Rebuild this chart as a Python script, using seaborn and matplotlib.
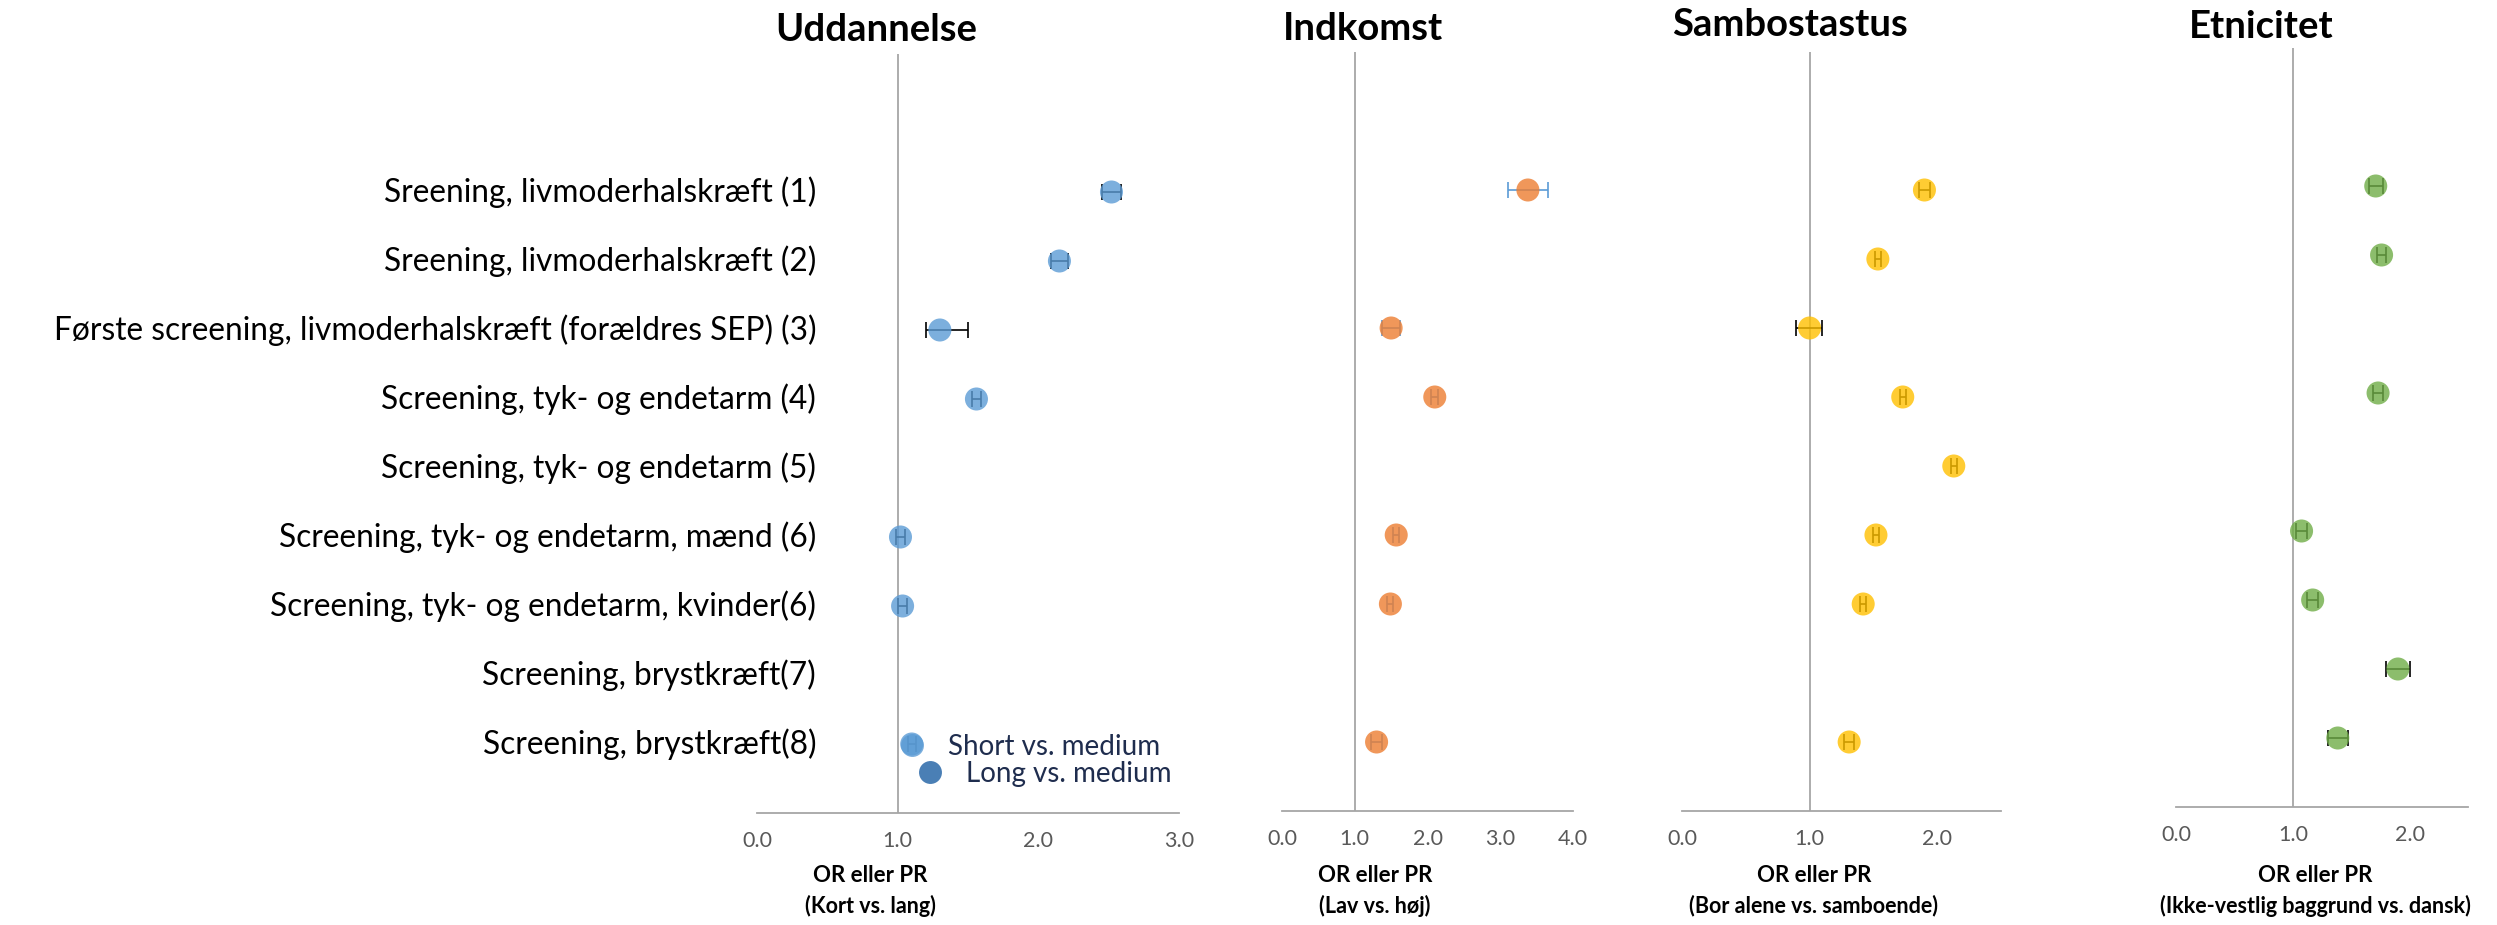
import numpy as np
import pandas as pd
import seaborn as sns
import matplotlib.pyplot as plt
from matplotlib.lines import Line2D

#------------------------------
# data
row_labels = [
    "Sreening, livmoderhalskræft (1)",
    "Sreening, livmoderhalskræft (2)",
    "Første screening, livmoderhalskræft (forældres SEP) (3)",
    "Screening, tyk- og endetarm (4)",
    "Screening, tyk- og endetarm (5)",
    "Screening, tyk- og endetarm, mænd (6)",
    "Screening, tyk- og endetarm, kvinder(6)",
    "Screening, brystkræft(7)",
    "Screening, brystkræft(8)",
]
nan = np.nan

edu_or = [2.52, 2.15, 1.30, 1.56, nan, 1.02, 1.035, nan, 1.10]
edu_lo = [2.45, 2.09, 1.20, 1.53, nan, 0.99, 1.005, nan, 1.07]
edu_hi = [2.59, 2.21, 1.50, 1.59, nan, 1.05, 1.065, nan, 1.13]

inc_or = [3.38, nan, 1.50, 2.10, nan, 1.57, 1.49, nan, 1.30]
inc_lo = [3.10, nan, 1.38, 2.05, nan, 1.53, 1.45, nan, 1.23]
inc_hi = [3.66, nan, 1.62, 2.15, nan, 1.61, 1.53, nan, 1.37]

civ_or = [1.90, 1.535, 1.00, 1.73, 2.13, 1.52, 1.42, nan, 1.31]
civ_lo = [1.86, 1.51, 0.89, 1.705, 2.105, 1.495, 1.395, nan, 1.27]
civ_hi = [1.94, 1.56, 1.10, 1.755, 2.155, 1.545, 1.445, nan, 1.35]

eth_or = [1.71, 1.76, nan, 1.73, nan, 1.075, 1.17, 1.90, 1.385]
eth_lo = [1.65, 1.72, nan, 1.69, nan, 1.03, 1.12, 1.80, 1.30]
eth_hi = [1.77, 1.80, nan, 1.77, nan, 1.12, 1.22, 2.00, 1.47]

titles = ["Uddannelse", "Indkomst", "Sambostastus", "Etnicitet"]
xlabel_2 = ["(Kort vs. lang)", "(Lav vs. høj)", "(Bor alene vs. samboende)",
            "(Ikke-vestlig baggrund vs. dansk)"]
xmax = [3.0, 4.0, 2.5, 2.5]
colors = ["#5B9BD5", "#ED7D31", "#FFC000", "#70AD47"]
err_colors = ["black", "#5B9BD5", "black", "black"]

#------------------------------
# one long table
frames = []
for name, o, lo, hi in zip(titles, [edu_or, inc_or, civ_or, eth_or],
                           [edu_lo, inc_lo, civ_lo, eth_lo],
                           [edu_hi, inc_hi, civ_hi, eth_hi]):
    df = pd.DataFrame({"panel": name, "row": np.arange(1, 10),
                       "OR": o, "lo": lo, "hi": hi})
    frames.append(df)
data = pd.concat(frames, ignore_index=True)

#------------------------------
W, H = 2497, 925
def fx(px):
    return px / W
def fy(py):
    return 1 - py / H

sns.set_style("white")
plt.rcParams["font.family"] = ["Lato", "DejaVu Sans"]

fig = plt.figure(figsize=(W / 100, H / 100), dpi=100)

# axes boxes in pixels: left, right, bottom
boxes = [(757, 1179, 813), (1282, 1573, 811), (1682, 2001, 811), (2176, 2468, 807)]
row_px = 69.0
title_pos = [(876, 30), (1363, 29), (1790, 25), (2261, 27)]
xlab_x = [870, 1375, 1814, 2315]

axes = []
for i, name in enumerate(titles):
    l, r, b = boxes[i]
    top = b - 11 * row_px
    ax = fig.add_axes([fx(l), fy(b), (r - l) / W, (b - top) / H])
    axes.append(ax)
    sub = data[data["panel"] == name].dropna()

    ax.errorbar(sub["OR"], sub["row"],
                xerr=[sub["OR"] - sub["lo"], sub["hi"] - sub["OR"]],
                fmt="none", ecolor=err_colors[i], elinewidth=1.2,
                capsize=5.5, capthick=1.2, zorder=2)
    sns.scatterplot(data=sub, x="OR", y="row", color=colors[i], s=275,
                    alpha=0.8, edgecolor="none", ax=ax, zorder=3, legend=False)
    ax.axvline(1.0, color="#a6a6a6", lw=1.3, zorder=1)

    ax.set_xlim(0, xmax[i])
    ax.set_ylim(10, -1)
    ax.set_xticks(np.arange(0, xmax[i] + 0.01, 1.0))
    ax.set_xticklabels([f"{t:.1f}" for t in np.arange(0, xmax[i] + 0.01, 1.0)])
    ax.set_yticks([])
    ax.set_xlabel("")
    ax.set_ylabel("")
    for s in ["top", "left", "right"]:
        ax.spines[s].set_visible(False)
    ax.spines["bottom"].set_color("#a6a6a6")
    ax.spines["bottom"].set_linewidth(1.3)
    ax.tick_params(axis="x", direction="out", length=5, width=1.3,
                   color="#a6a6a6", labelcolor="#595959", labelsize=15.5, pad=8)
    ax.patch.set_alpha(0)

    fig.text(fx(title_pos[i][0]), fy(title_pos[i][1]), name, ha="center",
             va="center", fontsize=27.5, fontweight="bold", color="black")
    fig.text(fx(xlab_x[i]), fy(876), "OR eller PR", ha="center", va="center",
             fontsize=16, fontweight="bold", color="black")
    fig.text(fx(xlab_x[i]), fy(906), xlabel_2[i], ha="center", va="center",
             fontsize=15.5, fontweight="bold", color="black")

# row labels on the left
for k, lab in enumerate(row_labels):
    axes[0].text(0.42, k + 1, lab, ha="right", va="center", fontsize=22.8,
                 color="black")

# legend (two staggered entries)
h_short = Line2D([], [], marker="o", ls="none", markersize=16.5,
                 markerfacecolor=colors[0], markeredgecolor="none", alpha=0.8)
h_long = Line2D([], [], marker="o", ls="none", markersize=16.5,
                markerfacecolor="#4A7FB5", markeredgecolor="none")
leg1 = axes[0].legend([h_short], ["Short vs. medium"], loc="center left",
                      bbox_to_anchor=(fx(899), fy(747)), bbox_transform=fig.transFigure,
                      frameon=False, fontsize=20, handlelength=0.9,
                      handletextpad=0.85, borderpad=0, borderaxespad=0,
                      labelcolor="#1F2D4E")
axes[0].add_artist(leg1)
axes[0].legend([h_long], ["Long vs. medium"], loc="center left",
               bbox_to_anchor=(fx(917), fy(774)), bbox_transform=fig.transFigure,
               frameon=False, fontsize=20, handlelength=0.9,
               handletextpad=0.85, borderpad=0, borderaxespad=0,
               labelcolor="#1F2D4E")

fig.savefig("out.png", dpi=100, facecolor="white")
